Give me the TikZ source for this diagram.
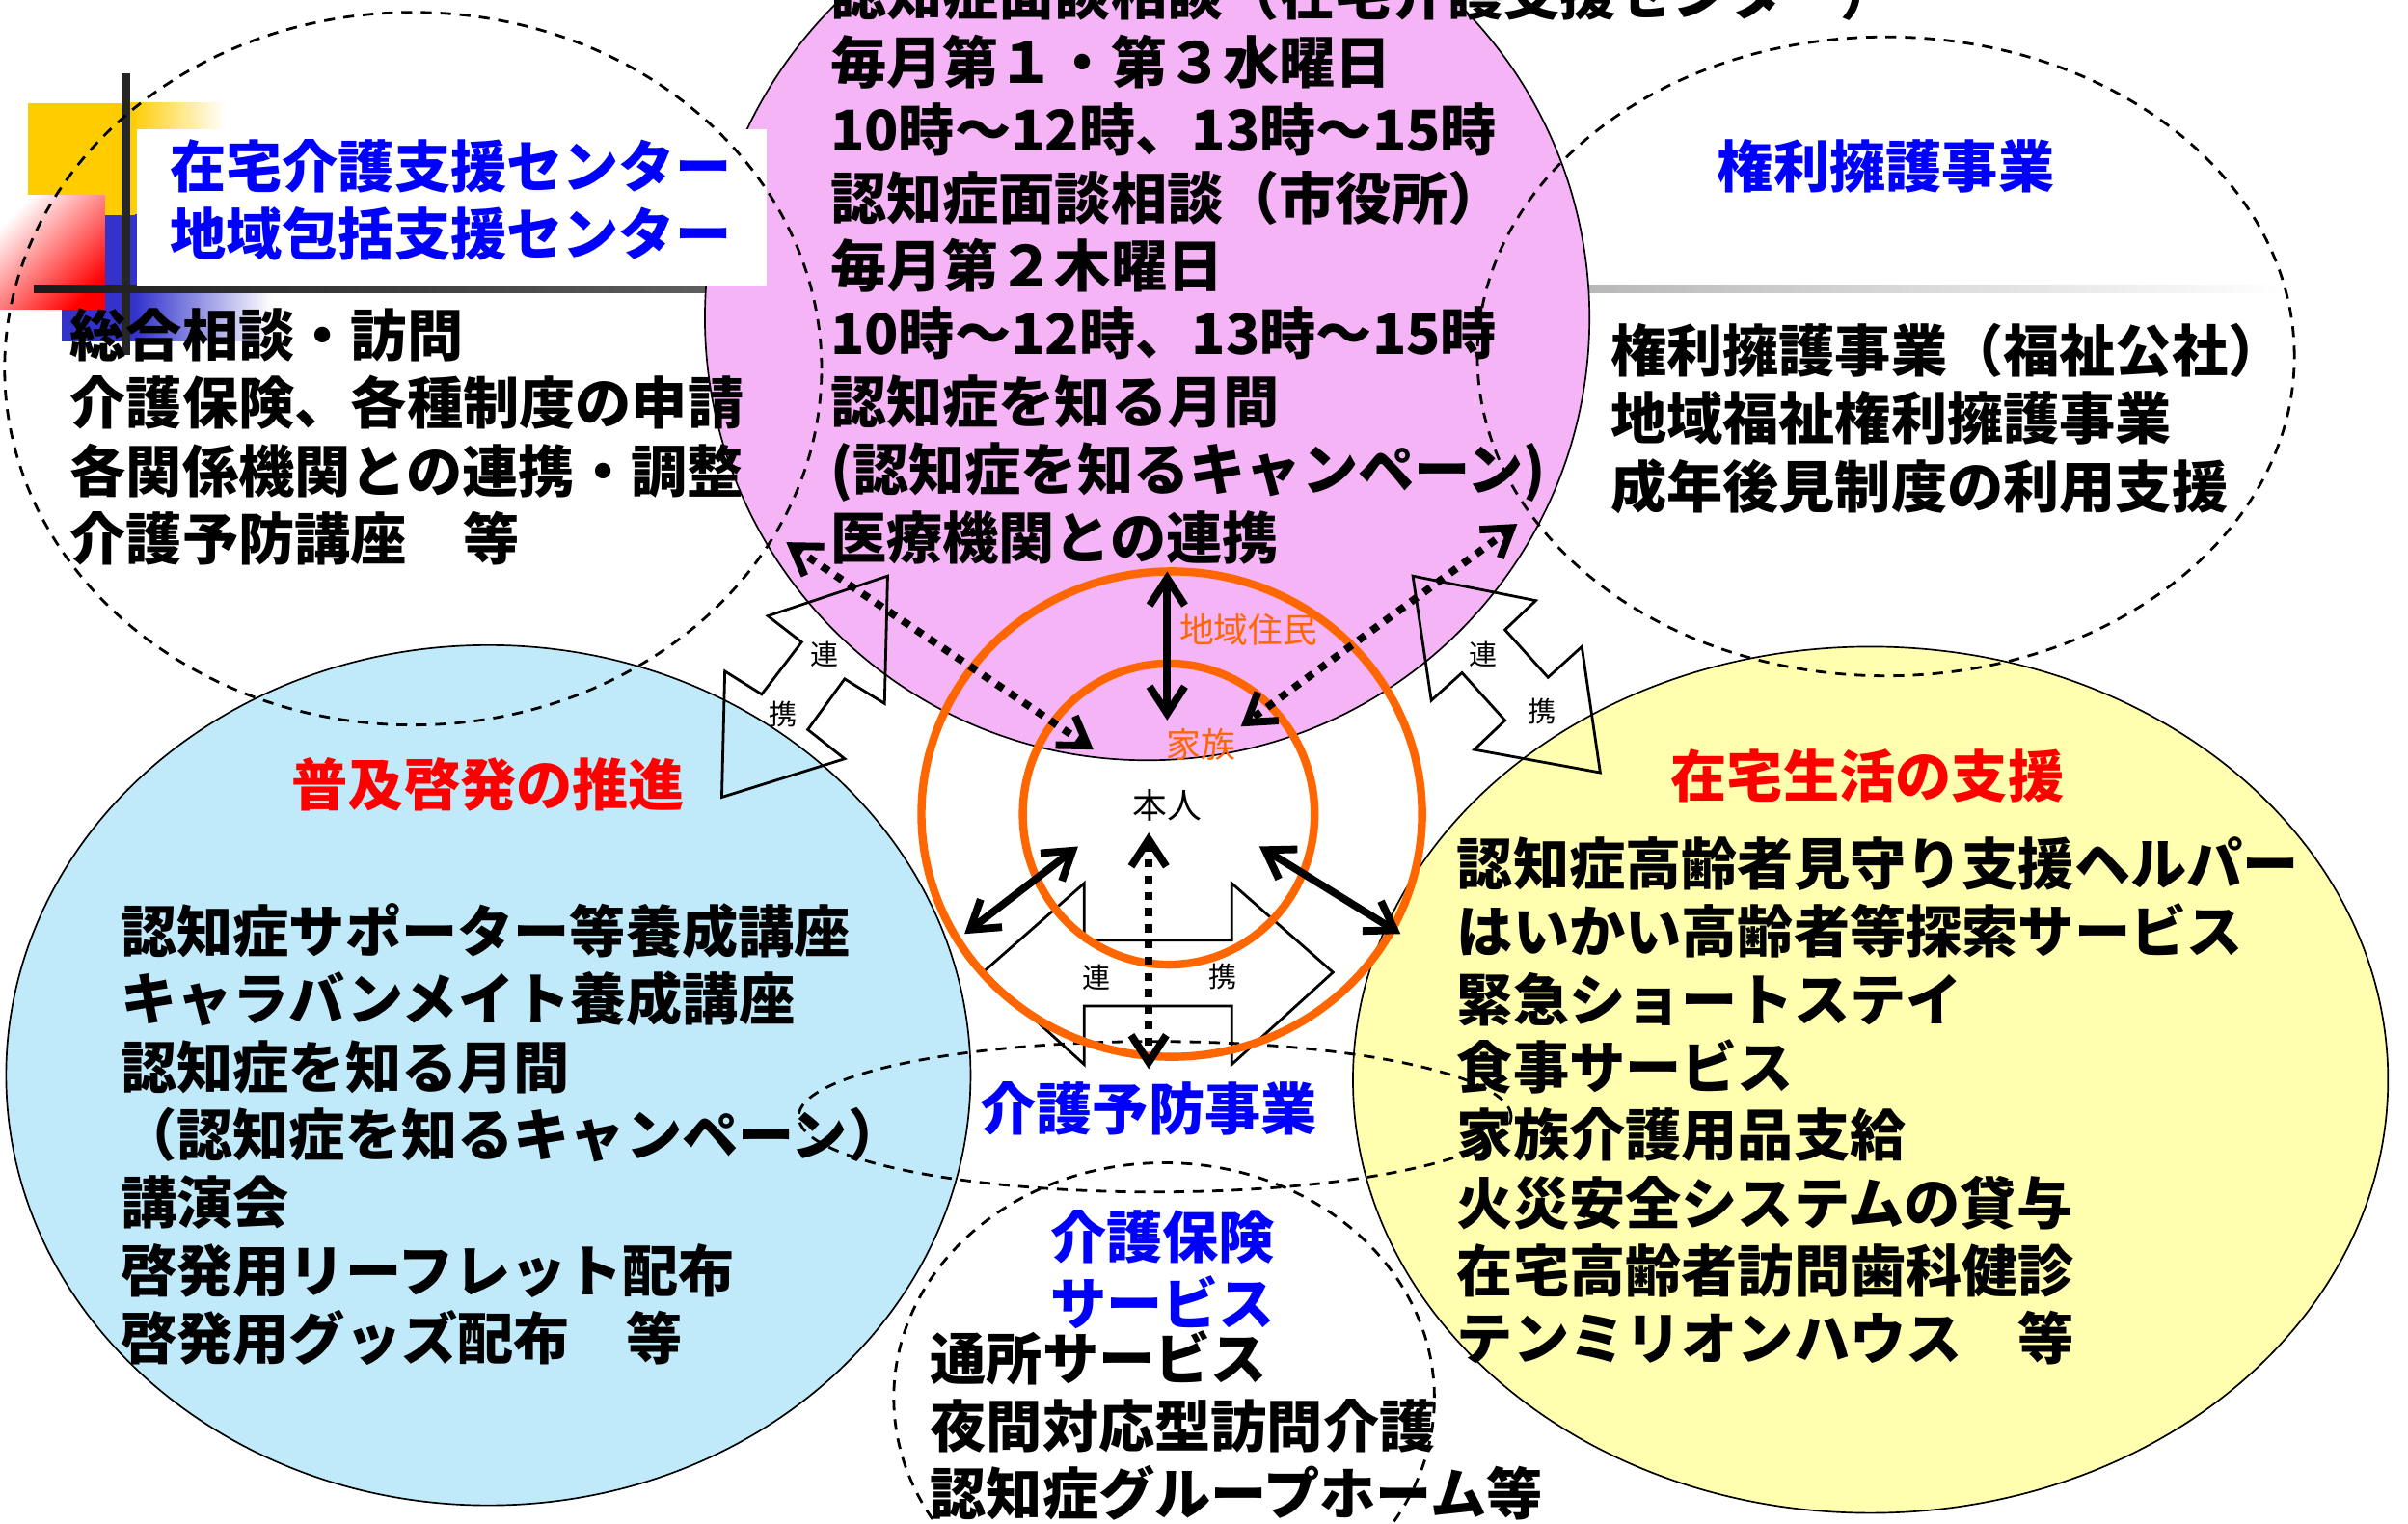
\documentclass[tikz,border=0pt]{standalone}
\usepackage{fontspec}
\setmainfont{Noto Sans CJK JP}
\usepackage{tikz}
\usetikzlibrary{arrows.meta}
\definecolor{pinkfill}{RGB}{245,180,245}
\definecolor{bluefill}{RGB}{192,234,250}
\definecolor{yellowfill}{RGB}{255,255,175}
\definecolor{orangeline}{RGB}{255,102,0}
\definecolor{boxyellow}{RGB}{255,204,0}
\definecolor{boxblue}{RGB}{51,51,204}
\newcommand{\bodysize}{\fontsize{10.4pt}{12.5pt}\selectfont\bfseries}
\newcommand{\tagsize}{\fontsize{6.4pt}{7pt}\selectfont}
\tikzstyle{body}=[font=\bodysize, inner sep=0pt, anchor=base west]
\tikzstyle{head}=[font=\bodysize, inner sep=0pt]
\tikzstyle{tag}=[font=\tagsize, inner sep=0pt]
\tikzstyle{link}=[font=\fontsize{5.2pt}{6pt}\selectfont, inner sep=0pt]
\tikzstyle{zone}=[draw=black, line width=0.3pt]
\tikzstyle{dashzone}=[draw=black, line width=0.5pt, dash pattern=on 2pt off 1.6pt]
\tikzstyle{ring}=[draw=orangeline, line width=1.5pt]
\tikzstyle{bolt}=[draw=black, line width=0.5pt, line join=miter]
\tikzstyle{arrow}=[{Straight Barb[length=5pt,width=6.5pt]}-{Straight Barb[length=5pt,width=6.5pt]}, line width=1.4pt]
\tikzstyle{dotarrow}=[arrow, dash pattern=on 1.5pt off 1.5pt]

\begin{document}
\begin{tikzpicture}
  \useasboundingbox (0,0) rectangle (15.68,9.92);
  \clip (0,0) rectangle (15.68,9.92);

  % title decoration
  \fill[boxyellow] (0.18,8.52) rectangle (0.85,9.25);
  \shade[left color=boxyellow, right color=white] (0.85,8.52) rectangle (1.46,9.25);
  \fill[boxblue] (0.40,7.70) rectangle (0.88,8.52);
  \shade[left color=boxblue, right color=white] (0.88,7.70) rectangle (1.77,8.52);
  \shade[left color=white, right color=red, shading angle=45] (0,7.91) rectangle (0.68,8.65);
  \fill[black!85] (0.79,7.61) rectangle (0.85,9.44);
  \shade[left color=black!90, middle color=black!25, right color=white] (0.22,8.015) rectangle (14.9,8.065);

  % circles
  \filldraw[fill=pinkfill, zone] (7.47,7.85) circle (2.88);
  \fill[white] (0.89,8.06) rectangle (4.99,9.08);
  \filldraw[fill=bluefill, zone] (3.18,2.92) ellipse [x radius=3.14, y radius=2.80];
  \filldraw[fill=yellowfill, zone] (12.18,2.89) ellipse [x radius=3.37, y radius=2.82];
  \draw[dashzone] (2.69,7.52) ellipse [x radius=2.66, y radius=2.32];
  \draw[dashzone] (12.28,7.60) ellipse [x radius=2.66, y radius=2.08];
  \draw[dashzone] (7.58,0.82) ellipse [x radius=1.76, y radius=1.53];
  \draw[dashzone] (7.52,2.65) ellipse [x radius=2.32, y radius=0.49];

  % link shapes
  \draw[bolt] (5.78,6.17) -- (5.00,5.91) -- (5.22,5.74) -- (4.96,5.40) -- (4.72,5.55)
    -- (4.70,4.73) -- (5.50,4.98) -- (5.26,5.17) -- (5.50,5.50) -- (5.76,5.34) -- cycle;
  \draw[bolt] (9.20,6.17) -- (10.00,6.01) -- (9.80,5.82) -- (10.08,5.51) -- (10.30,5.71)
    -- (10.42,4.89) -- (9.60,5.04) -- (9.80,5.23) -- (9.52,5.54) -- (9.32,5.36) -- cycle;
  \draw[bolt] (6.40,3.59) -- (7.06,4.17) -- (7.06,3.80) -- (8.02,3.80) -- (8.02,4.17)
    -- (8.68,3.59) -- (8.02,2.99) -- (8.02,3.37) -- (7.06,3.37) -- (7.06,2.99) -- cycle;
  \node[link] (link-l1) at (5.37,5.66) {連};
  \node[link] (link-l2) at (5.10,5.27) {携};
  \node[link] (link-r1) at (9.66,5.66) {連};
  \node[link] (link-r2) at (10.04,5.29) {携};
  \node[link] (link-b1) at (7.14,3.56) {連};
  \node[link] (link-b2) at (7.96,3.56) {携};

  \draw[ring] (7.63,4.62) ellipse [x radius=1.63, y radius=1.58];
  \draw[ring] (7.61,4.62) ellipse [x radius=0.95, y radius=0.98];

  % arrows
  \coordinate (up-top) at (7.60,6.20);
  \coordinate (up-bot) at (7.60,5.23);
  \coordinate (med-l) at (5.12,6.39);
  \coordinate (fam-l) at (7.12,5.04);
  \coordinate (rig-r) at (9.88,6.51);
  \coordinate (fam-r) at (8.08,5.19);
  \coordinate (self-d) at (7.48,4.50);
  \coordinate (prev-u) at (7.48,2.96);
  \coordinate (self-l) at (7.02,4.41);
  \coordinate (spr-r) at (6.28,3.84);
  \coordinate (self-r) at (8.20,4.41);
  \coordinate (home-l) at (9.12,3.84);
  \draw[arrow] (up-top) -- (up-bot);
  \draw[arrow] (self-l) -- (spr-r);
  \draw[arrow] (self-r) -- (home-l);
  \draw[dotarrow] (med-l) -- (fam-l);
  \draw[dotarrow] (rig-r) -- (fam-r);
  \draw[dotarrow] (self-d) -- (prev-u);

  \node[tag, text=orangeline] (resident) at (8.13,5.82) {地域住民};
  \node[tag, text=orangeline] (family) at (7.82,5.07) {家族};
  \node[tag] (person) at (7.60,4.68) {本人};

  % texts
  \foreach \t [count=\i] in {在宅介護支援センター, 地域包括支援センター}
    \node[body, text=blue] (center-\i) at (1.10,{8.70-0.44*(\i-1)}) {\t};
  \foreach \t [count=\i] in {総合相談・訪問, 介護保険、各種制度の申請, 各関係機関との連携・調整, 介護予防講座　等}
    \node[body] (support-\i) at (0.45,{7.60-0.442*(\i-1)}) {\t};
  \foreach \t [count=\i] in {認知症面談相談（在宅介護支援センター）, 毎月第１・第３水曜日, 10時～12時、13時～15時, 認知症面談相談（市役所）, 毎月第２木曜日, 10時～12時、13時～15時, 認知症を知る月間, (認知症を知るキャンペーン), 医療機関との連携}
    \node[body] (medical-\i) at (5.40,{9.82-0.442*(\i-1)}) {\t};
  \node[head, text=blue] (rights) at (12.28,8.84) {権利擁護事業};
  \foreach \t [count=\i] in {権利擁護事業（福祉公社）, 地域福祉権利擁護事業, 成年後見制度の利用支援}
    \node[body] (rights-\i) at (10.48,{7.50-0.442*(\i-1)}) {\t};
  \node[head, text=red] (spread) at (3.18,4.81) {普及啓発の推進};
  \foreach \t [count=\i] in {認知症サポーター等養成講座, キャラバンメイト養成講座, 認知症を知る月間, （認知症を知るキャンペーン）, 講演会, 啓発用リーフレット配布, 啓発用グッズ配布　等}
    \node[body] (spread-\i) at (0.78,{3.72-0.442*(\i-1)}) {\t};
  \node[head, text=red] (home) at (12.16,4.87) {在宅生活の支援};
  \foreach \t [count=\i] in {認知症高齢者見守り支援ヘルパー, はいかい高齢者等探索サービス, 緊急ショートステイ, 食事サービス, 家族介護用品支給, 火災安全システムの貸与, 在宅高齢者訪問歯科健診, テンミリオンハウス　等}
    \node[body] (home-\i) at (9.48,{4.16-0.442*(\i-1)}) {\t};
  \node[head, text=blue] (prevent) at (7.48,2.70) {介護予防事業};
  \node[head, text=blue] (insure-1) at (7.57,1.87) {介護保険};
  \node[head, text=blue] (insure-2) at (7.57,1.44) {サービス};
  \foreach \t [count=\i] in {通所サービス, 夜間対応型訪問介護, 認知症グループホーム等}
    \node[body] (insure-line-\i) at (6.05,{0.94-0.442*(\i-1)}) {\t};
\end{tikzpicture}
\end{document}
